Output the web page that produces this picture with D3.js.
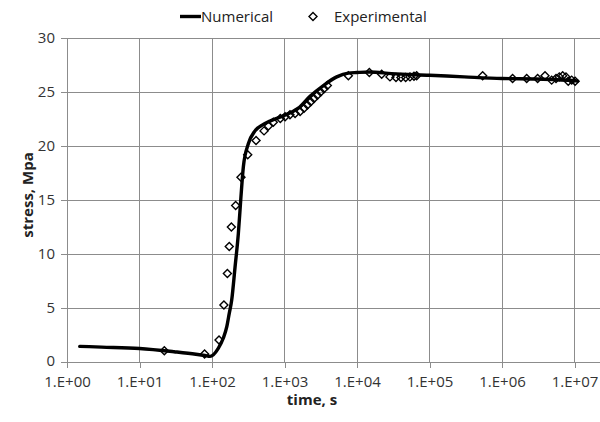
<!DOCTYPE html>
<html><head><meta charset="utf-8">
<script src="https://cdn.jsdelivr.net/npm/d3@7"></script>
<style>body{margin:0;background:#fff}svg{display:block}</style>
</head><body>
<svg id="c" width="600" height="422"></svg>
<script>
const numT = [1.5, 3, 10, 30, 60, 80, 94, 122, 143, 160, 173, 187, 208, 231, 249, 271, 317, 392, 510, 631, 960, 1550, 2250, 3440, 5250, 7590, 10000, 15000, 30000, 100000, 300000, 1e6, 3e6, 1e7, 1.1e7];
const numS = [1.45, 1.38, 1.25, 0.95, 0.72, 0.6, 0.52, 1.27, 2.2, 3.27, 4.5, 5.74, 8.8, 11.9, 15.0, 18.1, 20.2, 21.4, 22.0, 22.3, 22.8, 23.5, 24.6, 25.6, 26.4, 26.75, 26.8, 26.85, 26.7, 26.55, 26.4, 26.25, 26.2, 26.05, 26.0];
const expT = [22, 79, 125, 146, 163, 173, 185, 212, 251, 311, 405, 522, 600, 700, 875, 1020, 1190, 1400, 1640, 1860, 2070, 2300, 2550, 2840, 3150, 3500, 3900, 7600, 14800, 21900, 28500, 34500, 40400, 46900, 53800, 61100, 66500, 541000, 1.40e6, 2.19e6, 3.1e6, 3.92e6, 4.84e6, 5.56e6, 6.17e6, 6.87e6, 7.63e6, 8.2e6, 9.15e6, 1.02e7];
const expS = [1.05, 0.74, 2.04, 5.28, 8.2, 10.7, 12.5, 14.5, 17.1, 19.2, 20.5, 21.4, 21.85, 22.2, 22.55, 22.7, 22.9, 23.0, 23.2, 23.5, 23.8, 24.1, 24.4, 24.7, 25.0, 25.3, 25.6, 26.5, 26.8, 26.65, 26.4, 26.35, 26.35, 26.35, 26.4, 26.45, 26.5, 26.5, 26.25, 26.25, 26.25, 26.5, 26.1, 26.25, 26.4, 26.5, 26.4, 26.0, 26.1, 26.0];
const xTicks = [1, 10, 100, 1000, 1e4, 1e5, 1e6, 1e7];
const xTickLabels = ["1.E+00", "1.E+01", "1.E+02", "1.E+03", "1.E+04", "1.E+05", "1.E+06", "1.E+07"];
const yTicks = [0, 5, 10, 15, 20, 25, 30];
const seriesNames = ["Numerical", "Experimental"];

const svg = d3.select("#c");
const L = 67, R = 600, T = 38, B = 362;
const x = d3.scaleLog().domain([1, 1e8]).range([L, L + 72.5 * 8]);
const y = d3.scaleLinear().domain([0, 30]).range([B, T]);
const font = "'Open Sans', Lato, sans-serif";
const grid = "#8c8c8c";

svg.append("defs").append("clipPath").attr("id", "clip")
  .append("rect").attr("x", L).attr("y", T - 10).attr("width", R - L).attr("height", B - T + 20);

// gridlines
const g = svg.append("g");
g.selectAll("line.h").data(yTicks.filter(d => d > 0)).join("line")
  .attr("x1", L).attr("x2", R).attr("y1", d => y(d)).attr("y2", d => y(d))
  .attr("stroke", grid).attr("stroke-width", 1).attr("shape-rendering", "crispEdges");
g.selectAll("line.v").data(xTicks.filter(d => d > 1)).join("line")
  .attr("x1", d => x(d)).attr("x2", d => x(d)).attr("y1", T).attr("y2", B)
  .attr("stroke", grid).attr("stroke-width", 1).attr("shape-rendering", "crispEdges");

// axes
const xAxis = d3.axisBottom(x).tickValues(xTicks).tickFormat((d, i) => xTickLabels[i]).tickSize(6).tickPadding(8);
const xa = svg.append("g").attr("transform", `translate(0,${B})`).call(xAxis);
const yAxis = d3.axisLeft(y).tickValues(yTicks).tickSize(6).tickPadding(6);
const ya = svg.append("g").attr("transform", `translate(${L},0)`).call(yAxis);
[xa, ya].forEach(a => {
  a.select(".domain").attr("stroke", grid).attr("shape-rendering", "crispEdges");
  a.selectAll(".tick line").attr("stroke", grid).attr("shape-rendering", "crispEdges");
  a.selectAll(".tick text").attr("fill", "#333").style("font-family", font).style("font-size", "15px");
});
ya.selectAll(".tick text").filter(d => d === 0).attr("y", -1.5);
xa.select(".domain").attr("d", `M${L},0.5H${R}`);
ya.select(".domain").attr("d", `M0.5,${B}V${T}`);

// line
const plot = svg.append("g").attr("clip-path", "url(#clip)");
const lineData = numT.map((t, i) => [t, numS[i]]);
plot.append("path").datum(lineData)
  .attr("d", d3.line().x(d => x(d[0])).y(d => y(d[1])).curve(d3.curveMonotoneX))
  .attr("fill", "none").attr("stroke", "#000").attr("stroke-width", 3.4).attr("stroke-linejoin", "round").attr("stroke-linecap", "round");

const diamond = "M0,-4L4,0L0,4L-4,0Z";
plot.selectAll("path.pt").data(expT.map((t, i) => [t, expS[i]])).join("path")
  .attr("class", "pt").attr("d", diamond)
  .attr("transform", d => `translate(${x(d[0])},${y(d[1])})`)
  .attr("fill", "none").attr("stroke", "#000").attr("stroke-width", 1.4);

// axis titles
svg.append("text").attr("x", 312).attr("y", 405).attr("text-anchor", "middle")
  .style("font-family", font).style("font-size", "15px").style("font-weight", "bold").attr("fill", "#222")
  .text("time, s");
svg.append("text").attr("transform", "translate(33,195) rotate(-90)").attr("text-anchor", "middle")
  .style("font-family", font).style("font-size", "15px").style("font-weight", "bold").attr("fill", "#222")
  .text("stress, Mpa");

// legend
const lg = svg.append("g");
lg.append("line").attr("x1", 180).attr("x2", 201).attr("y1", 16.5).attr("y2", 16.5).attr("stroke", "#000").attr("stroke-width", 3.4);
lg.append("text").attr("x", 201).attr("y", 22).style("font-family", font).style("font-size", "15px").attr("fill", "#222").text(seriesNames[0]);
lg.append("path").attr("d", diamond).attr("transform", "translate(313,16.5)").attr("fill", "none").attr("stroke", "#000").attr("stroke-width", 1.4);
lg.append("text").attr("x", 334).attr("y", 22).style("font-family", font).style("font-size", "15px").attr("fill", "#222").text(seriesNames[1]);
</script>
</body></html>
